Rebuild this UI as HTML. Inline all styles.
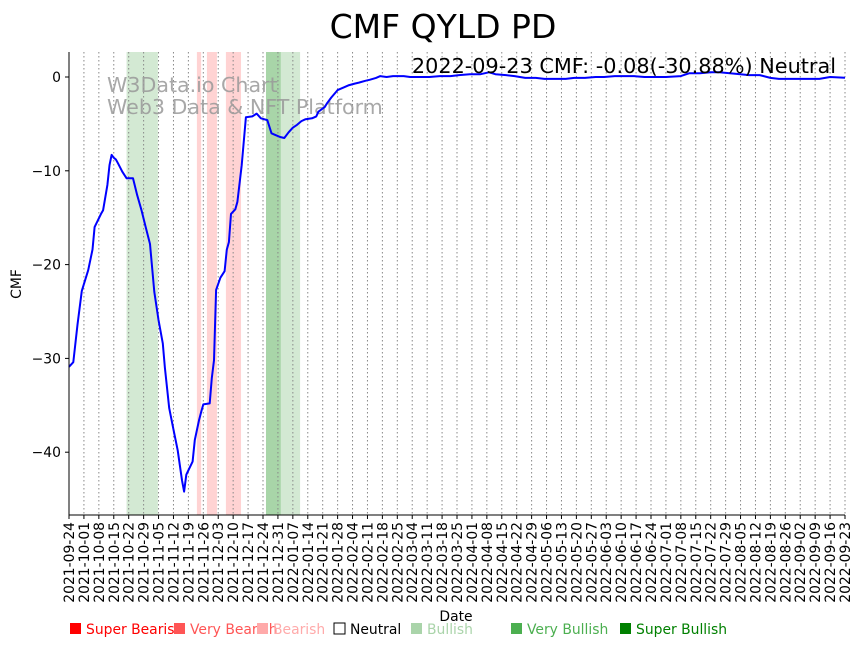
<!DOCTYPE html>
<html><head><meta charset="utf-8"><style>
body{margin:0;background:#fff;}
svg text{font-family:"DejaVu Sans","Liberation Sans",sans-serif;}
</style></head><body>
<svg id="c" width="860" height="646" xmlns="http://www.w3.org/2000/svg">
<text x="443" y="38" font-size="33" text-anchor="middle">CMF QYLD PD</text>
<g id="bands"></g><g id="grid"></g>
<text x="107" y="92" font-size="20.6" fill="#999" opacity="0.85">W3Data.io Chart</text>
<text x="107" y="114" font-size="20.6" fill="#999" opacity="0.85">Web3 Data &amp; NFT Platform</text>
<g id="series"></g>
<text x="836" y="73" font-size="20.8" text-anchor="end">2022-09-23 CMF: -0.08(-30.88%) Neutral</text>
<g id="axes"></g>
<text x="21" y="284" font-size="13.9" text-anchor="middle" transform="rotate(-90 21 284)">CMF</text>
<text x="456" y="621" font-size="13.9" text-anchor="middle">Date</text>
<g id="legend" font-size="13.9"></g>
</svg>
<script>
const dayOffsets=[0,2,4,6,9,11,12,15,16,18,19,20,21,22,23,25,27,29,30,32,34,36,38,40,42,44,45,47,49,51,53,54,55,58,59,61,62,63,66,67,68,69,71,73,74,75,76,78,79,81,83,86,88,90,93,95,97,99,101,103,105,107,109,111,114,116,117,120,121,123,126,129,131,134,136,139,141,144,146,149,152,154,157,160,165,169,174,179,183,188,193,197,200,205,209,214,219,223,228,233,237,242,247,251,256,261,265,270,275,280,287,291,296,301,305,310,315,319,324,329,333,338,343,347,352,357,364];
const cmfValues=[-30.9,-30.4,-26.4,-22.8,-20.6,-18.4,-16.0,-14.6,-14.2,-11.5,-9.4,-8.3,-8.6,-8.8,-9.2,-10.1,-10.8,-10.8,-10.8,-12.6,-14.2,-16.0,-17.8,-22.9,-25.9,-28.4,-31.0,-35.3,-37.6,-39.8,-43.0,-44.2,-42.4,-41.0,-38.7,-36.6,-35.7,-34.9,-34.8,-32.1,-30.2,-22.7,-21.4,-20.7,-18.4,-17.6,-14.6,-14.1,-13.3,-9.4,-4.3,-4.2,-3.9,-4.4,-4.6,-6.0,-6.2,-6.4,-6.5,-5.9,-5.4,-5.1,-4.7,-4.5,-4.4,-4.2,-3.7,-3.2,-2.8,-2.2,-1.4,-1.1,-0.9,-0.7,-0.6,-0.4,-0.3,-0.1,0.1,0,0.1,0.1,0.1,0,0,0,0.1,0.1,0.2,0.3,0.3,0.5,0.3,0.2,0.1,-0.1,-0.1,-0.2,-0.2,-0.2,-0.1,-0.1,0,0,0.1,0.1,0.1,0,0,0,0.1,0.4,0.4,0.5,0.5,0.4,0.3,0.2,0.2,-0.1,-0.2,-0.2,-0.2,-0.2,-0.2,0,-0.08];
const bandStarts=[27,60,64.7,73.6,92.4,99.4];
const bandEnds=[41.7,62,69.4,80.7,99.4,108.4];
const bandColors=["#d3e9d3","#ffd3d3","#ffd3d3","#ffd3d3","#a8d5a8","#d3e9d3"];
const yTicks=[0,-10,-20,-30,-40];
const legendLabels=["Super Bearish","Very Bearish","Bearish","Neutral","Bullish","Very Bullish","Super Bullish"];
const legendColors=["#ff0000","#ff5555","#ffaaaa","#000000","#aad4aa","#4caf50","#008000"];
const legendX=[69,173,256,333,410,510,619];
const X0=69,X1=845,Y0=52,Y1=515,DAYS=364;
const xs=d=>X0+(X1-X0)*d/DAYS;
const ys=v=>77+(0-v)*9.38;
const NS="http://www.w3.org/2000/svg";
function mk(t,a,p){const e=document.createElementNS(NS,t);for(const k in a)e.setAttribute(k,a[k]);p.appendChild(e);return e;}
const bands=document.getElementById('bands'),grid=document.getElementById('grid'),axes=document.getElementById('axes'),series=document.getElementById('series'),legend=document.getElementById('legend');
bandStarts.forEach((s,i)=>{const r=mk('rect',{x:xs(s),y:Y0,width:xs(bandEnds[i])-xs(s),height:Y1-Y0,fill:bandColors[i]},bands);

});
const base=new Date(Date.UTC(2021,8,24));
for(let d=0;d<=DAYS;d+=7){const x=xs(d);
const g=mk('line',{x1:x,x2:x,y1:Y0,y2:Y1,stroke:'#888','stroke-width':1,'stroke-dasharray':'1.5,2.5'},grid);


mk('line',{x1:x,x2:x,y1:Y1,y2:Y1+4,stroke:'#000'},axes);
const dt=new Date(base.getTime()+d*864e5);const lab=dt.toISOString().slice(0,10);
const t=mk('text',{x:x+5,y:Y1+7,'font-size':13.9,'text-anchor':'end',transform:`rotate(-90 ${x+5} ${Y1+7})`},axes);t.textContent=lab;

}
yTicks.forEach(v=>{const y=ys(v);mk('line',{x1:X0-4,x2:X0,y1:y,y2:y,stroke:'#000'},axes);
const t=mk('text',{x:X0-8,y:y+5,'font-size':13.9,'text-anchor':'end'},axes);t.textContent=v===0?'0':'\u2212'+Math.abs(v);

});
mk('line',{x1:X0,x2:X0,y1:Y0,y2:Y1,stroke:'#000','stroke-width':1},axes);
mk('line',{x1:X0,x2:X1,y1:Y1,y2:Y1,stroke:'#000','stroke-width':1},axes);
const pts=dayOffsets.map((d,i)=>xs(d).toFixed(1)+','+ys(cmfValues[i]).toFixed(1)).join(' ');
const pl=mk('polyline',{points:pts,fill:'none',stroke:'#0000ff','stroke-width':2,'stroke-linejoin':'round'},series);


legendLabels.forEach((l,i)=>{const x=legendX[i];
const r=mk('rect',{x:x+1,y:623,width:11,height:11,fill:i===3?'#fff':legendColors[i],stroke:i===3?'#000':'none'},legend);


const t=mk('text',{x:x+17,y:634,fill:legendColors[i]},legend);t.textContent=l;

});
</script>
</body></html>
